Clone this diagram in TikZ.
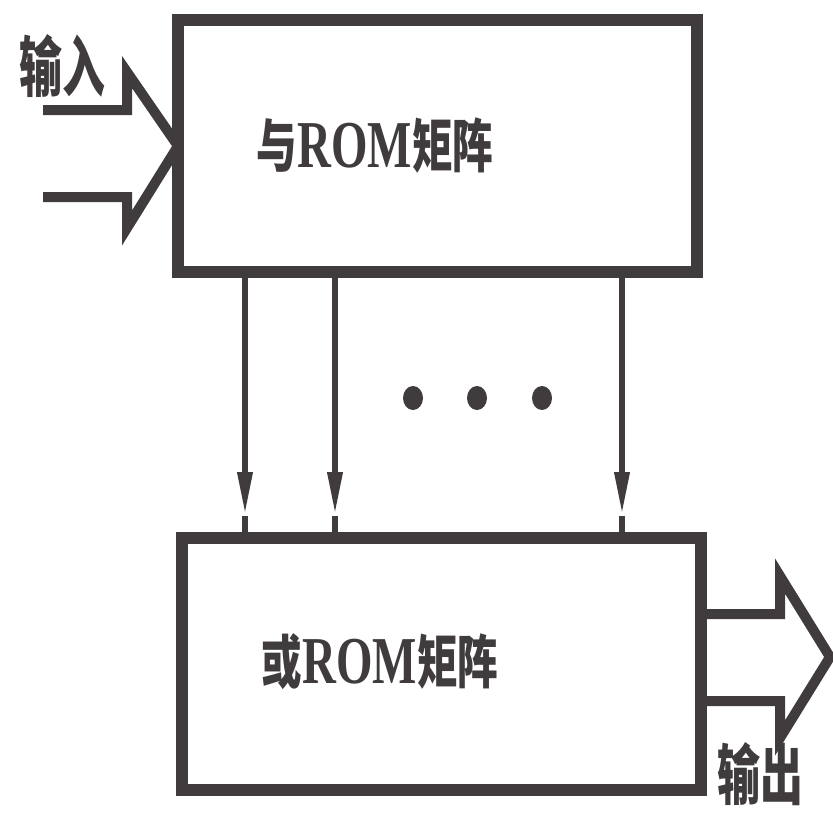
\documentclass[tikz,border=0pt]{standalone}
\usepackage{fontspec}
\setmainfont{Liberation Serif}
\newfontfamily\cjk{Noto Sans CJK SC}
\usetikzlibrary{arrows.meta}
\definecolor{ink}{RGB}{64,60,61}
\newcommand{\boxtext}[1]{\scalebox{0.7}[1]{\fontsize{58}{60}\selectfont\bfseries #1}}
\newcommand{\romtxt}{{\fontsize{67}{70}\selectfont\bfseries ROM}}
\newcommand{\sidetext}[1]{\scalebox{0.65}[1]{\fontsize{66}{68}\selectfont\cjk\bfseries #1}}
\begin{document}
\begin{tikzpicture}[x=1pt,y=-1pt,
  matbox/.style={draw=ink, line width=12pt, minimum width=519pt, minimum height=252pt, inner sep=0pt, outer sep=0pt},
  lbl/.style={text=ink, inner sep=0pt},
  blockarrow/.style={draw=ink, line width=10pt, line join=miter, miter limit=10},
  busline/.style={draw=ink, line width=6.5pt},
  bustip/.style={draw=ink, line width=6.5pt, -{Triangle[length=44pt,width=14pt]}},
  dot/.style={fill=ink, draw=none}]
\useasboundingbox (0,0) rectangle (833,812);
% boxes
\node[matbox] (andm) at (437.5,146) {};
\node[matbox] (orm) at (441,664) {};
\node[lbl] (andtxt) at (375,146) {\boxtext{{\cjk 与}\romtxt{\cjk 矩阵}}};
\node[lbl] (ortxt) at (380,662) {\boxtext{{\cjk 或}\romtxt{\cjk 矩阵}}};
% input block arrow
\coordinate (inA) at (43,110);
\coordinate (inB) at (43,197);
\draw[blockarrow] (inA) -- (127,110) -- (127,72) -- (andm.west) -- (127,228) -- (127,197) -- (inB);
\node[lbl] (intxt) at (62,66) {\sidetext{输入}};
% output block arrow
\coordinate (outA) at (780,614);
\coordinate (outB) at (780,701);
\draw[blockarrow] (orm.east |- outA) -- (outA) -- (780,576) -- (830,657) -- (780,738) -- (outB) -- (orm.east |- outB);
\node[lbl] (outtxt) at (760,774) {\sidetext{输出}};
% bus lines
\foreach \i/\x in {1/245,2/335,3/622}{
  \coordinate (t\i) at (\x,272);
  \coordinate (m\i) at (\x,516);
  \coordinate (b\i) at (\x,538);
  \draw[bustip] (andm.south -| t\i) -- (m\i);
  \draw[busline] (m\i) -- (orm.north -| b\i);
}
% dots
\foreach \x in {413,477,542}{
  \fill[dot] (\x,398) ellipse (10pt and 12pt);
}
\end{tikzpicture}
\end{document}
